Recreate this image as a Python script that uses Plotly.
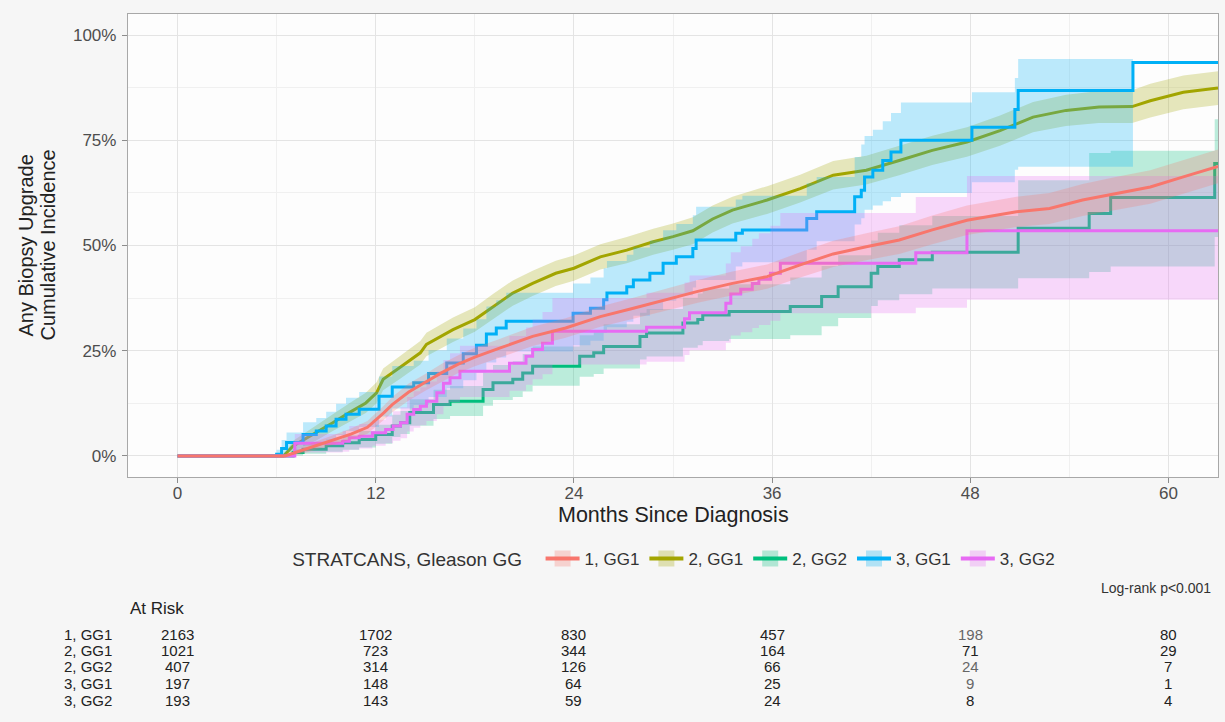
import plotly.graph_objects as go

# ---------------- data ----------------
groups = ["1, GG1", "2, GG1", "2, GG2", "3, GG1", "3, GG2"]
colors = ["#F8766D", "#A3A500", "#00BF7D", "#00B0F6", "#E76BF3"]

# 1, GG1 (cumulative incidence, %)
t_1gg1 = [0, 6.5, 7.5, 8.5, 9.5, 10.5, 11.5, 12.0, 12.5, 13.0, 13.5, 14.0, 15.0, 16.0, 17.0, 18.0,
          19.5, 21.5, 23.5, 25.6, 27.6, 29.6, 31.5, 33.6, 35.7, 37.7, 39.7, 41.7, 43.7, 45.7, 47.8,
          50.8, 52.8, 54.8, 56.8, 58.9, 60.9, 63.0]
est_1gg1 = [0, 0, 1.3, 2.6, 3.9, 5.2, 6.8, 8.5, 10.3, 12.2, 13.8, 15.2, 17.5, 19.8, 21.8, 23.5,
            25.6, 28.4, 30.4, 33.1, 35.1, 37.1, 39.1, 41.0, 42.6, 45.4, 48.0, 49.7, 51.3, 53.7, 56.0,
            58.0, 58.8, 60.8, 62.4, 63.9, 66.3, 68.8]
lo_1gg1 = [0, 0, 0.5, 1.6, 2.7, 3.9, 5.3, 6.9, 8.6, 10.4, 11.9, 13.2, 15.5, 17.7, 19.7, 21.3,
           23.4, 26.1, 28.1, 30.7, 32.6, 34.5, 36.4, 38.2, 39.7, 42.4, 44.9, 46.5, 48.0, 50.3, 52.5,
           54.4, 55.1, 57.0, 58.5, 59.9, 62.3, 64.8]
hi_1gg1 = [0, 0, 2.1, 3.6, 5.1, 6.5, 8.3, 10.1, 12.0, 14.0, 15.7, 17.2, 19.5, 21.9, 23.9, 25.7,
           27.8, 30.7, 32.7, 35.5, 37.6, 39.7, 41.8, 43.8, 45.5, 48.4, 51.1, 52.9, 54.6, 57.1, 59.5,
           61.6, 62.5, 64.6, 66.3, 67.9, 70.3, 72.8]

# 2, GG1
t_2gg1 = [0, 6.4, 7.0, 8.4, 9.4, 10.4, 11.4, 12.05, 12.45, 13.46, 14.7, 15.07, 16.68, 18.0, 19.1,
          20.3, 21.5, 22.9, 24.0, 25.6, 27.2, 28.8, 30.0, 31.2, 32.4, 33.6, 35.7, 37.7, 39.7, 41.7,
          43.7, 45.7, 47.8, 49.8, 51.8, 53.8, 55.8, 57.8, 58.9, 60.9, 63.0]
est_2gg1 = [0, 0, 2.4, 5.5, 7.9, 10.3, 12.6, 15.0, 18.2, 21.0, 24.5, 26.5, 30.0, 32.4, 35.5,
            38.7, 41.0, 43.4, 44.6, 47.3, 48.9, 50.9, 52.1, 53.5, 56.3, 58.4, 60.8, 63.5, 66.7, 67.9,
            70.2, 72.6, 74.6, 77.3, 80.5, 82.1, 82.9, 83.0, 84.4, 86.4, 87.4]
lo_2gg1 = [0, 0, 1.2, 3.7, 5.9, 8.1, 10.2, 12.5, 15.6, 18.3, 21.7, 23.7, 27.1, 29.5, 32.5,
           35.7, 38.0, 40.4, 41.6, 44.3, 45.8, 47.8, 49.0, 50.3, 53.1, 55.2, 57.5, 60.2, 63.3, 64.5,
           66.7, 69.1, 71.1, 73.7, 76.9, 78.4, 79.1, 79.1, 80.4, 82.4, 83.4]
hi_2gg1 = [0, 0, 3.6, 7.3, 9.9, 12.5, 15.0, 17.5, 20.8, 23.7, 27.3, 29.3, 32.9, 35.3, 38.5,
           41.7, 44.0, 46.4, 47.6, 50.3, 52.0, 54.0, 55.2, 56.7, 59.5, 61.6, 64.1, 66.8, 70.1, 71.3,
           73.7, 76.1, 78.1, 80.9, 84.1, 85.8, 86.7, 86.9, 88.4, 90.4, 91.4]

# 2, GG2
t_2gg2 = [0, 6.8, 7.0, 7.6, 9.0, 10.0, 11.0, 12.0, 13.0, 13.5, 14.06, 15.5, 16.5, 18.5, 19.1,
          20.3, 20.9, 21.5, 24.35, 25.2, 25.8, 28.0, 28.4, 30.6, 31.5, 31.8, 33.4, 37.1, 39.0, 40.0,
          42.0, 42.4, 43.7, 45.7, 50.9, 55.2, 56.5, 62.8, 63.0]
est_2gg2 = [0, 0, 0.8, 1.6, 2.4, 3.15, 3.9, 5.1, 7.1, 7.9, 10.3, 12.2, 13.0, 15.8, 17.4,
            18.2, 19.7, 21.3, 23.7, 24.5, 26.0, 28.4, 29.2, 31.6, 32.4, 33.5, 34.3, 35.5, 37.9, 40.2,
            43.4, 45.0, 46.6, 48.4, 54.1, 57.6, 61.4, 69.5, 69.5]
lo_2gg2 = [0, 0, 0.1, 0.5, 1.0, 1.5, 2.0, 2.9, 4.5, 5.2, 7.2, 8.8, 9.5, 11.9, 13.3,
           14.0, 15.3, 16.7, 18.8, 19.5, 20.8, 22.9, 23.6, 25.7, 26.3, 27.3, 27.8, 28.7, 30.8, 32.8,
           35.6, 37.0, 38.4, 39.8, 42.2, 43.7, 45.0, 52.0, 52.0]
hi_2gg2 = [0, 0, 1.6, 2.8, 3.9, 4.9, 5.9, 7.4, 9.8, 10.7, 13.5, 15.7, 16.6, 19.8, 21.6,
           22.5, 24.2, 26.0, 28.7, 29.6, 31.3, 34.0, 34.9, 37.6, 38.6, 39.8, 40.8, 42.4, 45.1, 47.7,
           51.2, 53.0, 54.8, 57.0, 65.5, 72.0, 72.5, 80.0, 80.0]

# 3, GG1
t_3gg1 = [0, 6.0, 6.3, 6.6, 7.6, 8.4, 9.0, 9.6, 10.2, 11.0, 12.2, 13.0, 14.3, 15.2, 16.3, 17.3,
          18.1, 18.7, 19.3, 19.9, 23.95, 25.0, 25.8, 26.0, 27.2, 27.6, 28.6, 29.4, 30.2, 31.2, 31.4,
          33.8, 34.2, 38.1, 38.7, 41.0, 41.4, 41.6, 42.1, 42.7, 43.2, 43.8, 48.1, 50.7, 50.9, 57.85,
          63.0]
est_3gg1 = [0, 0.4, 1.8, 3.2, 5.1, 5.9, 7.1, 8.7, 9.9, 11.1, 14.2, 16.4, 17.4, 19.6, 22.1, 24.3,
            26.3, 29.0, 30.4, 32.0, 33.9, 35.1, 37.1, 38.7, 40.2, 41.8, 43.4, 45.8, 47.3, 49.3, 51.3,
            52.9, 53.7, 56.4, 58.0, 61.6, 63.1, 66.3, 67.9, 70.2, 72.2, 75.0, 78.1, 82.3, 86.8, 93.5,
            93.5]
lo_3gg1 = [0, 0, 0.3, 1.0, 2.3, 2.9, 3.8, 5.0, 5.9, 6.9, 9.4, 11.3, 12.1, 14.0, 16.1, 18.0,
           19.8, 22.2, 23.4, 24.8, 26.3, 27.4, 29.2, 30.6, 31.9, 33.3, 34.7, 36.9, 38.2, 40.0, 41.8,
           45.0, 46.0, 49.0, 51.0, 55.0, 56.5, 58.5, 59.5, 60.5, 61.5, 62.5, 65.0, 68.0, 68.7, 68.7]
hi_3gg1 = [0, 1.5, 3.8, 5.6, 8.0, 9.0, 10.5, 12.4, 13.8, 15.2, 18.9, 21.4, 22.6, 25.1, 27.9, 30.3,
           32.5, 35.5, 37.0, 38.8, 41.0, 42.4, 44.6, 46.3, 47.8, 49.5, 51.2, 53.6, 55.1, 57.2, 59.2,
           60.9, 61.8, 64.8, 66.3, 71.0, 74.0, 76.0, 77.5, 79.5, 81.5, 84.0, 86.4, 89.8, 94.3, 94.3]

# 3, GG2
t_3gg2 = [0, 7.1, 10.0, 10.4, 11.0, 11.8, 12.6, 13.05, 13.5, 13.9, 14.3, 14.7, 15.07, 15.7, 16.1,
          16.5, 17.1, 20.1, 21.1, 21.5, 22.1, 22.7, 28.4, 30.7, 31.0, 33.2, 33.5, 34.1, 34.8, 35.2,
          35.9, 36.5, 44.7, 47.8, 63.0]
est_3gg2 = [0, 3.0, 3.5, 4.3, 4.7, 5.5, 6.3, 7.1, 7.9, 9.9, 11.05, 11.8, 13.0, 15.0, 17.3,
            18.6, 20.1, 22.0, 23.7, 25.3, 26.8, 29.6, 30.6, 32.6, 34.0, 36.3, 38.5, 39.6, 41.0, 42.0,
            43.4, 45.8, 48.3, 53.5, 53.5]
lo_3gg2 = [0, 0.8, 1.0, 1.5, 1.8, 2.4, 3.0, 3.6, 4.2, 5.8, 6.7, 7.3, 8.3, 9.9, 11.8,
           12.8, 14.0, 15.5, 16.9, 18.2, 19.4, 21.7, 22.4, 24.0, 25.1, 26.9, 28.6, 29.4, 30.4, 31.1,
           32.1, 33.9, 35.2, 37.1, 37.1]
hi_3gg2 = [0, 5.2, 6.0, 7.1, 7.6, 8.6, 9.6, 10.6, 11.6, 14.0, 15.4, 16.3, 17.7, 20.1, 22.8,
           24.4, 26.2, 28.5, 30.5, 32.4, 34.2, 37.5, 38.8, 41.2, 42.9, 45.7, 48.4, 49.8, 51.6, 52.9,
           54.7, 57.7, 61.5, 66.5, 66.5]

# at-risk table
risk_times = [0, 12, 24, 36, 48, 60]
risk_1gg1 = [2163, 1702, 830, 457, 198, 80]
risk_2gg1 = [1021, 723, 344, 164, 71, 29]
risk_2gg2 = [407, 314, 126, 66, 24, 7]
risk_3gg1 = [197, 148, 64, 25, 9, 1]
risk_3gg2 = [193, 143, 59, 24, 8, 4]

# ---------------- figure ----------------
W, H = 1225, 722
L, R, T, B = 128, 7, 14, 245
PW, PH = W - L - R, H - T - B


def px_x(px):
    return (px - L) / PW


def px_y(py):
    return (H - B - py) / PH


def rgba(hexc, a):
    h = hexc.lstrip("#")
    return "rgba(%d,%d,%d,%.2f)" % (int(h[0:2], 16), int(h[2:4], 16), int(h[4:6], 16), a)


series = [
    (groups[0], colors[0], t_1gg1, est_1gg1, lo_1gg1, hi_1gg1, "linear"),
    (groups[1], colors[1], t_2gg1, est_2gg1, lo_2gg1, hi_2gg1, "linear"),
    (groups[2], colors[2], t_2gg2, est_2gg2, lo_2gg2, hi_2gg2, "hv"),
    (groups[3], colors[3], t_3gg1, est_3gg1, lo_3gg1, hi_3gg1, "hv"),
    (groups[4], colors[4], t_3gg2, est_3gg2, lo_3gg2, hi_3gg2, "hv"),
]
draw_order = [1, 2, 3, 4, 0]   # the 1, GG1 curve sits on top

fig = go.Figure()
for k in draw_order:
    name, col, t, e, lo, hi, shape = series[k]
    fig.add_trace(go.Scatter(x=t, y=e, mode="lines", line=dict(color=col, width=3, shape=shape),
                             showlegend=False, hoverinfo="skip"))
    tb = t[:len(lo)]
    fig.add_trace(go.Scatter(x=tb, y=lo, mode="lines", line=dict(width=0, shape=shape, color=col),
                             showlegend=False, hoverinfo="skip"))
    fig.add_trace(go.Scatter(x=tb, y=hi, mode="lines", line=dict(width=0, shape=shape, color=col),
                             fill="tonexty", fillcolor=rgba(col, 0.26),
                             showlegend=False, hoverinfo="skip"))

for name, col in zip(groups, colors):
    fig.add_trace(go.Scatter(x=[None], y=[None], mode="lines+markers", name=name,
                             line=dict(color=col, width=4),
                             marker=dict(symbol="square", size=24, color=rgba(col, 0.28),
                                         line=dict(width=0))))

grid_major = "#E4E4E4"
grid_minor = "#F0F0F0"
fig.update_xaxes(range=[-3, 63], tick0=0, dtick=12, ticks="outside", ticklen=5, tickcolor="#8C8C8C",
                 showline=True, mirror=True, linecolor="#A8A8A8", linewidth=1.3,
                 showgrid=True, gridcolor=grid_major, gridwidth=1.1, zeroline=False,
                 minor=dict(dtick=6, tick0=0, showgrid=True, gridcolor=grid_minor, gridwidth=0.8),
                 tickfont=dict(size=17, color="#4D4D4D"), ticklabelstandoff=-5, automargin=False)
fig.update_yaxes(range=[-5, 105], tick0=0, dtick=25, ticksuffix="%", ticks="outside", ticklen=5,
                 tickcolor="#8C8C8C", showline=True, mirror=True, linecolor="#A8A8A8", linewidth=1.3,
                 showgrid=True, gridcolor=grid_major, gridwidth=1.1, zeroline=False,
                 minor=dict(dtick=12.5, tick0=0, showgrid=True, gridcolor=grid_minor, gridwidth=0.8),
                 tickfont=dict(size=17, color="#4D4D4D"), ticklabelstandoff=2, automargin=False)

ann = []
# axis titles
ann.append(dict(text="Any Biopsy Upgrade", x=px_x(25), y=0.5, xref="paper", yref="paper",
                xanchor="center", yanchor="middle",
                textangle=-90, showarrow=False, font=dict(size=20, color="#222222")))
ann.append(dict(text="Cumulative Incidence", x=px_x(47), y=0.5, xref="paper", yref="paper",
                xanchor="center", yanchor="middle",
                textangle=-90, showarrow=False, font=dict(size=20, color="#222222")))
ann.append(dict(text="Months Since Diagnosis", x=0.5, y=px_y(515), xref="paper", yref="paper",
                xanchor="center", yanchor="middle",
                showarrow=False, font=dict(size=21.5, color="#222222")))
ann.append(dict(text="Log-rank p<0.001", x=px_x(1213), y=px_y(588), xref="paper", yref="paper",
                xanchor="right", yanchor="middle", showarrow=False, font=dict(size=14, color="#333333")))
ann.append(dict(text="At Risk", x=px_x(157), y=px_y(608), xref="paper", yref="paper",
                xanchor="center", yanchor="middle",
                showarrow=False, font=dict(size=17, color="#222222")))

risk_rows = [risk_1gg1, risk_2gg1, risk_2gg2, risk_3gg1, risk_3gg2]
row_y = [634, 650, 666, 683, 700]
light = {(0, 4), (2, 4), (3, 4)}
for i, (name, row) in enumerate(zip(groups, risk_rows)):
    ann.append(dict(text=name, x=px_x(63), y=px_y(row_y[i]), xref="paper", yref="paper",
                    xanchor="left", yanchor="middle", showarrow=False, borderpad=0,
                    font=dict(size=15, color="#222222")))
    for j, (tt, n) in enumerate(zip(risk_times, row)):
        c = "#666666" if (i, j) in light else "#222222"
        ann.append(dict(text=str(n), x=tt, y=px_y(row_y[i]), xref="x", yref="paper",
                        xanchor="center", yanchor="middle", borderpad=0,
                        showarrow=False, font=dict(size=15, color=c)))

fig.update_layout(
    width=W, height=H, margin=dict(l=L, r=R, t=T, b=B, autoexpand=False),
    paper_bgcolor="#F6F6F6", plot_bgcolor="#FDFDFD",
    font=dict(family="Liberation Sans, Arial, Helvetica, sans-serif", color="#333333"),
    showlegend=True,
    legend=dict(orientation="h", x=0.502, xanchor="center", y=px_y(559), yanchor="middle",
                title=dict(text="STRATCANS, Gleason GG  ", side="left",
                           font=dict(size=19, color="#333333")),
                font=dict(size=17, color="#333333"), bgcolor="rgba(0,0,0,0)",
                traceorder="normal", itemwidth=34),
    annotations=ann,
)

fig.write_html("out.html", config={"displayModeBar": False},
               post_script="document.body.style.margin='0';document.body.style.overflow='hidden';")
